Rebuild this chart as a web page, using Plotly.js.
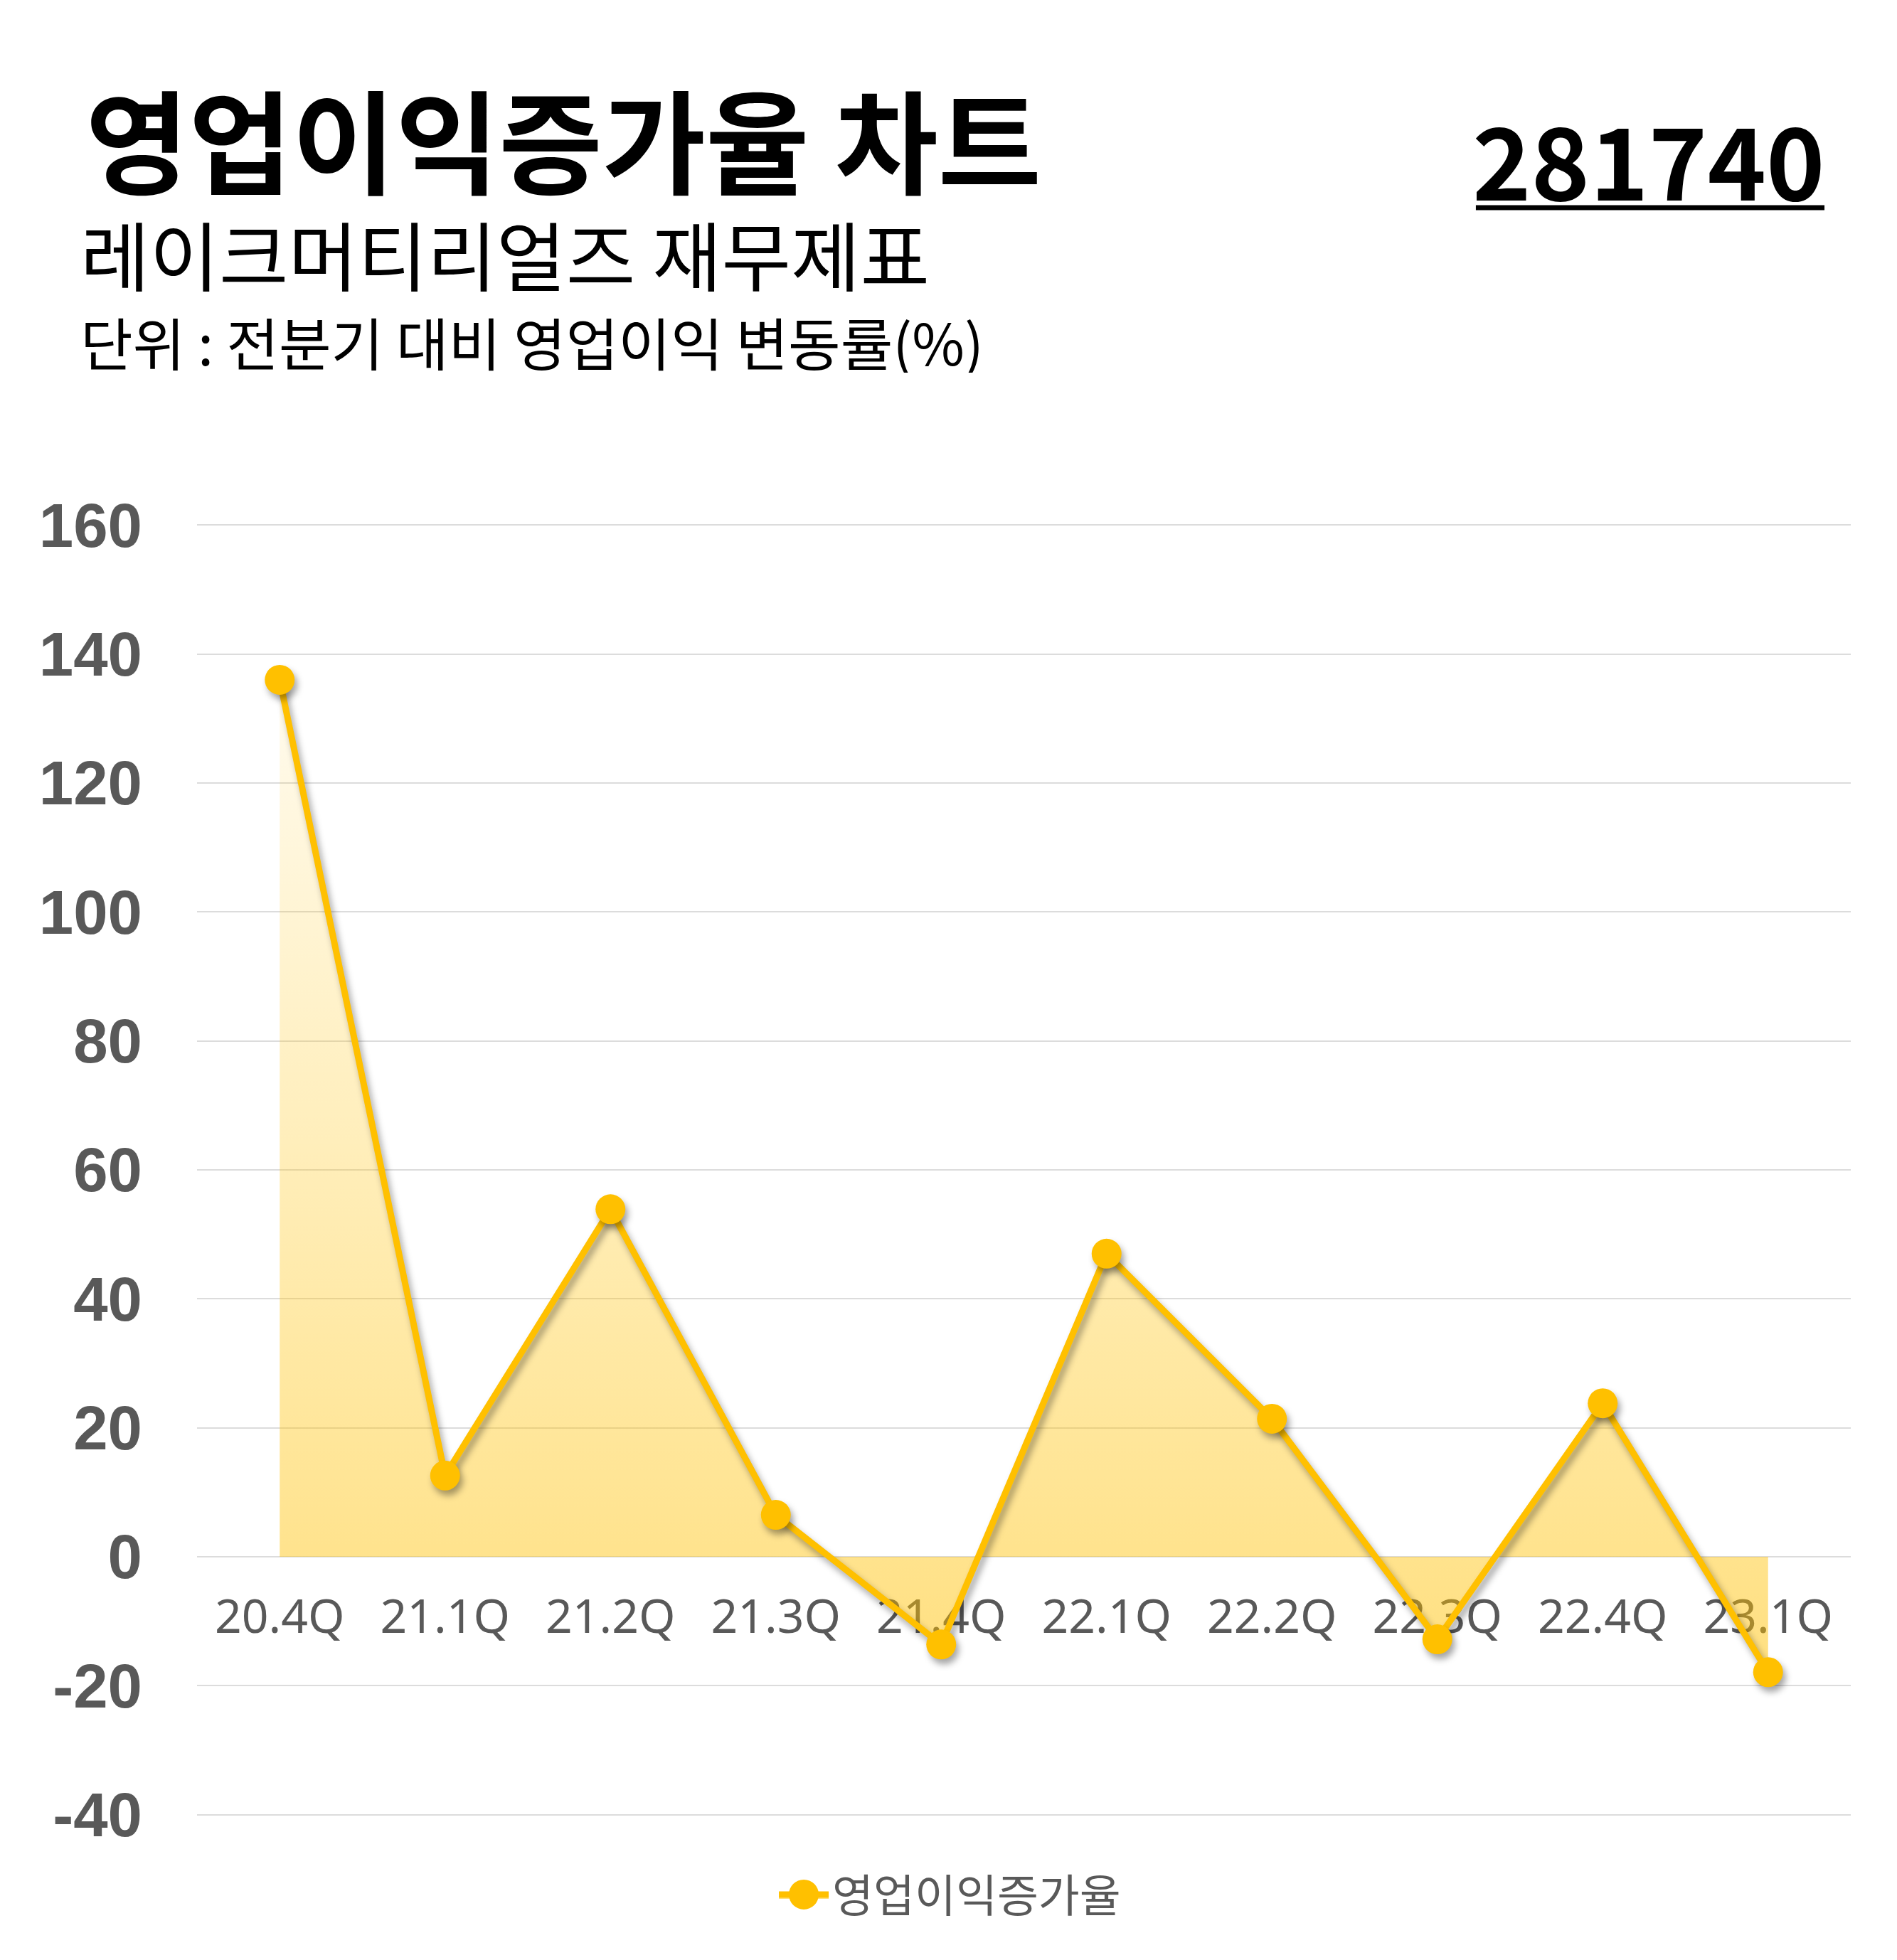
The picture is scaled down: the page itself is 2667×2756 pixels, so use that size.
<!DOCTYPE html>
<html>
<head>
<meta charset="utf-8">
<script src="https://cdn.plot.ly/plotly-3.0.1.min.js"></script>
<style>
    html, body { margin: 0; padding: 0; background: #ffffff; }
    #chart { width: 2667px; height: 2756px; }
    /* soft drop shadow under the line and points, like the original chart */
    .scatterlayer .lines, .scatterlayer .points {
        filter: drop-shadow(4px 7px 5px rgba(0, 0, 0, 0.35));
    }
</style>
</head>
<body>
<div id="chart"></div>
<script>
var quarters = ["20.4Q", "21.1Q", "21.2Q", "21.3Q", "21.4Q", "22.1Q", "22.2Q", "22.3Q", "22.4Q", "23.1Q"]
var growth = [136.0, 12.6, 53.9, 6.5, -13.6, 47.0, 21.4, -12.8, 23.8, -17.9]
var yTicks = [-40, -20, 0, 20, 40, 60, 80, 100, 120, 140, 160]
var yTickText = ["-40", "-20", "0", "20", "40", "60", "80", "100", "120", "140", "160"]

var seriesName = "영업이익증가율"
var chartTitle = "영업이익증가율 차트"
var companyName = "레이크머티리얼즈 재무제표"
var unitText = "단위 : 전분기 대비 영업이익 변동률(%)"
var stockCode = "281740"

var yellow = "#FFC000"
var grey = "#595959"
var korean = "'Noto Sans CJK KR', 'Noto Sans', sans-serif"

Plotly.newPlot(
    document.getElementById("chart"),
    [{
        type: "scatter",
        mode: "lines+markers",
        name: seriesName,
        x: quarters,
        y: growth,
        fill: "tozeroy",
        fillgradient: {
            type: "vertical",
            start: -40,
            stop: 160,
            colorscale: [[0, "rgba(255,192,0,0.56)"], [1, "rgba(255,192,0,0)"]],
        },
        line: { color: yellow, width: 9 },
        marker: { color: yellow, size: 42 },
        hoverinfo: "x+y",
    }],
    {
        width: 2667,
        height: 2756,
        margin: { l: 277, r: 65, t: 737, b: 203 },
        paper_bgcolor: "#ffffff",
        plot_bgcolor: "#ffffff",
        showlegend: true,
        legend: {
            orientation: "h",
            x: 0.3497,
            y: -0.0611,
            xanchor: "left",
            yanchor: "middle",
            itemwidth: 70,
            font: { family: korean, size: 63, color: grey },
        },
        xaxis: {
            type: "category",
            range: [-0.5, 9.5],
            anchor: "free",
            position: 0.2,
            showgrid: false,
            zeroline: false,
            showline: false,
            ticks: "",
            layer: "below traces",
            ticklabelstandoff: 39,
            tickfont: { family: "'Noto Sans', sans-serif", size: 66, color: grey },
        },
        yaxis: {
            // a hair wider than -40..160 so the edge grid lines are drawn
            range: [-40.15, 160.15],
            tickvals: yTicks,
            ticktext: yTickText,
            showgrid: true,
            gridcolor: "#dcdcdc",
            gridwidth: 2,
            zeroline: true,
            zerolinecolor: "#dcdcdc",
            zerolinewidth: 2,
            showline: false,
            ticks: "",
            ticklabelstandoff: 76,
            tickfont: { family: "'Liberation Sans', Arial, sans-serif", size: 87, color: grey, weight: "bold" },
        },
        annotations: [{
            text: chartTitle,
            font: { family: korean, size: 158, color: "#000000", weight: "bold" },
            showarrow: false,
            height: 168,
            x: -0.0685,
            y: 1.3001,
            xanchor: "left",
            yanchor: "middle",
            xref: "paper",
            yref: "paper",
        }, {
            text: companyName,
            font: { family: korean, size: 106, color: "#000000" },
            showarrow: false,
            height: 114,
            x: -0.0712,
            y: 1.2106,
            xanchor: "left",
            yanchor: "middle",
            xref: "paper",
            yref: "paper",
        }, {
            text: unitText,
            font: { family: korean, size: 80, color: "#000000" },
            showarrow: false,
            height: 90,
            x: -0.0712,
            y: 1.1421,
            xanchor: "left",
            yanchor: "middle",
            xref: "paper",
            yref: "paper",
        }, {
            text: stockCode,
            font: { family: korean, size: 140, color: "#000000", weight: "bold" },
            showarrow: false,
            x: 0.9854,
            y: 1.2841,
            xanchor: "right",
            yanchor: "middle",
            xref: "paper",
            yref: "paper",
        }],
        shapes: [{
            // underline under the stock code
            type: "line",
            xref: "paper",
            yref: "paper",
            x0: 0.7733,
            x1: 0.9841,
            y0: 1.2450,
            y1: 1.2450,
            line: { color: "#000000", width: 7 },
        }],
    },
    { displayModeBar: false, staticPlot: true }
).then(function () {
    // legend symbols are capped at 16px by plotly, the original uses the full point size
    document.querySelectorAll(".legend .scatterpts").forEach(function (p) {
        p.setAttribute("d", "M21,0A21,21 0 1,1 0,-21A21,21 0 0,1 21,0Z")
    })
})
</script>
</body>
</html>
